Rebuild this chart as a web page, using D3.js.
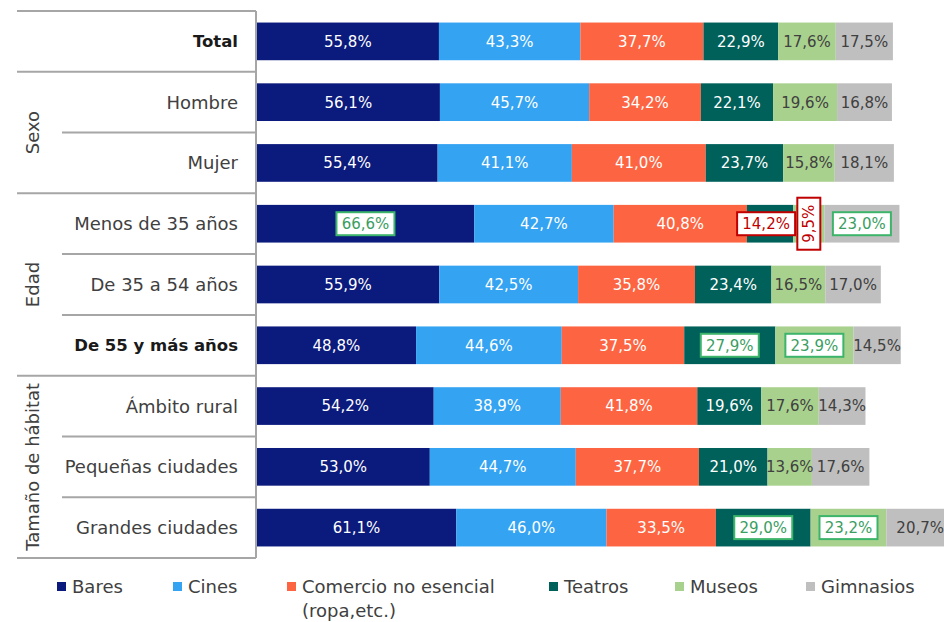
<!DOCTYPE html>
<html>
<head>
<meta charset="utf-8">
<script src="https://cdn.jsdelivr.net/npm/d3@7"></script>
<style>
    body { margin: 0; background: #fff; }
    svg { display: block; font-family: "DejaVu Sans", Verdana, sans-serif; }
</style>
</head>
<body>
<div id="chart"></div>
<script>
const categories = ['Total', 'Hombre', 'Mujer', 'Menos de 35 años', 'De 35 a 54 años',
    'De 55 y más años', 'Ámbito rural', 'Pequeñas ciudades', 'Grandes ciudades'];
const boldCategories = ['Total', 'De 55 y más años'];

const seriesNames = ['Bares', 'Cines', 'Comercio no esencial', 'Teatros', 'Museos', 'Gimnasios'];
const bares = [55.8, 56.1, 55.4, 66.6, 55.9, 48.8, 54.2, 53.0, 61.1];
const cines = [43.3, 45.7, 41.1, 42.7, 42.5, 44.6, 38.9, 44.7, 46.0];
const comercio = [37.7, 34.2, 41.0, 40.8, 35.8, 37.5, 41.8, 37.7, 33.5];
const teatros = [22.9, 22.1, 23.7, 14.2, 23.4, 27.9, 19.6, 21.0, 29.0];
const museos = [17.6, 19.6, 15.8, 9.5, 16.5, 23.9, 17.6, 13.6, 23.2];
const gimnasios = [17.5, 16.8, 18.1, 23.0, 17.0, 14.5, 14.3, 17.6, 20.7];

// highlighted values: green = above total, red = below
const highlightsUp = [['Menos de 35 años', 'Bares'], ['Menos de 35 años', 'Gimnasios'],
    ['De 55 y más años', 'Teatros'], ['De 55 y más años', 'Museos'],
    ['Grandes ciudades', 'Teatros'], ['Grandes ciudades', 'Museos']];
const highlightsDown = [['Menos de 35 años', 'Teatros'], ['Menos de 35 años', 'Museos']];

const groups = [
    { name: '', from: 'Total', to: 'Total' },
    { name: 'Sexo', from: 'Hombre', to: 'Mujer' },
    { name: 'Edad', from: 'Menos de 35 años', to: 'De 55 y más años' },
    { name: 'Tamaño de hábitat', from: 'Ámbito rural', to: 'Grandes ciudades' }
];

const legendLines = { 'Comercio no esencial': ['Comercio no esencial', '(ropa,etc.)'] };
const legendX = [57, 173, 287, 549, 675, 806];

const COLORS = ['#0b1a7d', '#33a3f2', '#fd6441', '#00605a', '#a9d18e', '#bfbfbf'];
const LABELCOLORS = ['#ffffff', '#ffffff', '#ffffff', '#ffffff', '#404040', '#404040'];

const width = 944, height = 622;
const tableLeft = 17, groupColRight = 62, tableRight = 256, tableTop = 11, tableBottom = 558;

const svg = d3.select('#chart').append('svg')
    .attr('width', width)
    .attr('height', height);

const rows = categories.map((c, i) => ({
    category: c,
    'Bares': bares[i], 'Cines': cines[i], 'Comercio no esencial': comercio[i],
    'Teatros': teatros[i], 'Museos': museos[i], 'Gimnasios': gimnasios[i]
}));

const y = d3.scaleBand()
    .domain(categories)
    .range([tableTop, tableBottom])
    .paddingInner(0.38)
    .paddingOuter(0.19);

const x = d3.scaleLinear()
    .domain([0, 100])
    .range([256.7, 256.7 + 326.6]);

const stack = d3.stack().keys(seriesNames);
const stacked = stack(rows);

// bars
const layers = svg.append('g').attr('class', 'bars')
    .selectAll('g')
    .data(stacked)
    .enter()
    .append('g')
    .attr('fill', (d, i) => COLORS[i]);

layers.selectAll('rect')
    .data(d => d)
    .enter()
    .append('rect')
    .attr('x', d => x(d[0]))
    .attr('y', d => y(d.data.category))
    .attr('width', d => x(d[1]) - x(d[0]))
    .attr('height', y.bandwidth());

// value labels
const isIn = (list, cat, key) => list.some(h => h[0] === cat && h[1] === key);

stacked.forEach((layer, si) => {
    const key = layer.key;
    layer.forEach(d => {
        const cat = d.data.category;
        const cx = (x(d[0]) + x(d[1])) / 2;
        const cy = y(cat) + y.bandwidth() / 2;
        const txt = d3.format('.1f')(d[1] - d[0]).replace('.', ',') + '%';
        const up = isIn(highlightsUp, cat, key);
        const down = isIn(highlightsDown, cat, key);
        const g = svg.append('g').attr('transform', 'translate(' + cx + ',' + cy + ')');
        if (up || down) {
            // narrow segment -> the label box is turned upright
            const vertical = down && (x(d[1]) - x(d[0])) < 40;
            const bw = 58, bh = 23;
            g.append('rect')
                .attr('x', vertical ? -bh / 2 : -bw / 2 + (down ? -4 : 0))
                .attr('y', vertical ? -26 : -bh / 2)
                .attr('width', vertical ? bh : bw)
                .attr('height', vertical ? 52 : bh)
                .attr('fill', '#fff')
                .attr('stroke', up ? '#3cb46a' : '#c00000')
                .attr('stroke-width', 2);
            g.append('text')
                .attr('x', vertical ? 0 : (down ? -4 : 0))
                .attr('dy', '0.36em')
                .attr('transform', vertical ? 'rotate(-90)' : null)
                .attr('text-anchor', 'middle')
                .attr('font-size', 15)
                .attr('fill', up ? '#3a9e62' : '#c00000')
                .text(txt);
        } else {
            g.append('text')
                .attr('dy', '0.36em')
                .attr('text-anchor', 'middle')
                .attr('font-size', 15)
                .attr('fill', LABELCOLORS[si])
                .text(txt);
        }
    });
});

// table on the left
const table = svg.append('g').attr('class', 'table');
const step = y.step();
const rowTop = c => y(c) - y.paddingInner() * step / 2;

categories.forEach(c => {
    const isGroupStart = groups.some(g => g.from === c);
    const bold = boldCategories.includes(c);
    table.append('line')
        .attr('x1', isGroupStart ? tableLeft : groupColRight)
        .attr('x2', tableRight)
        .attr('y1', rowTop(c))
        .attr('y2', rowTop(c))
        .attr('stroke', '#a6a6a6')
        .attr('stroke-width', 2);

    table.append('text')
        .attr('x', 238)
        .attr('y', y(c) + y.bandwidth() / 2)
        .attr('dy', '0.36em')
        .attr('text-anchor', 'end')
        .attr('font-size', bold ? 16.5 : 18)
        .attr('font-weight', bold ? 'bold' : 'normal')
        .attr('fill', bold ? '#1a1a1a' : '#404040')
        .text(c);
});

table.append('line')
    .attr('x1', tableLeft).attr('x2', tableRight)
    .attr('y1', tableBottom).attr('y2', tableBottom)
    .attr('stroke', '#a6a6a6').attr('stroke-width', 2);

table.append('line')
    .attr('x1', tableRight).attr('x2', tableRight)
    .attr('y1', tableTop).attr('y2', tableBottom)
    .attr('stroke', '#a6a6a6').attr('stroke-width', 2);

groups.filter(g => g.name).forEach(g => {
    const top = rowTop(g.from);
    const bottom = rowTop(g.to) + step;
    table.append('text')
        .attr('transform', 'translate(33,' + (top + bottom) / 2 + ') rotate(-90)')
        .attr('dy', '0.36em')
        .attr('text-anchor', 'middle')
        .attr('font-size', 18)
        .attr('fill', '#404040')
        .text(g.name);
});

// legend
const legend = svg.append('g').attr('class', 'legend')
    .selectAll('g')
    .data(seriesNames)
    .enter()
    .append('g')
    .attr('transform', (d, i) => 'translate(' + legendX[i] + ',587)');

legend.append('rect')
    .attr('x', 0)
    .attr('y', -5)
    .attr('width', 9)
    .attr('height', 9)
    .attr('fill', (d, i) => COLORS[i]);

legend.append('text')
    .attr('x', 15)
    .attr('font-size', 18)
    .attr('fill', '#404040')
    .selectAll('tspan')
    .data(d => legendLines[d] || [d])
    .enter()
    .append('tspan')
    .attr('x', 15)
    .attr('y', (d, i) => i * 24)
    .attr('dy', '0.36em')
    .text(d => d);
</script>
</body>
</html>
